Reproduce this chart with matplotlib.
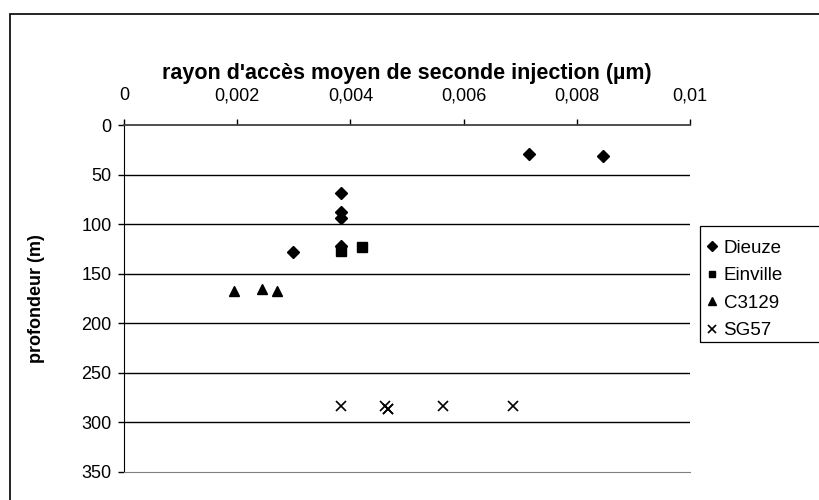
import matplotlib
matplotlib.use("Agg")
import matplotlib.pyplot as plt
from matplotlib.patches import Rectangle

plt.rcParams["font.family"] = ["Liberation Sans", "DejaVu Sans"]

# rayon d'accès (µm) / profondeur (m) par site
dieuze_x = [0.00715, 0.00846, 0.00384, 0.00384, 0.00384, 0.00384, 0.00299]
dieuze_y = [29, 31, 69, 88, 94, 122, 128]
einville_x = [0.0042, 0.00384]
einville_y = [123, 127]
c3129_x = [0.00195, 0.00243, 0.00271]
c3129_y = [167, 165, 167]
sg57_x = [0.00384, 0.00462, 0.00467, 0.00467, 0.00563, 0.00688]
sg57_y = [283, 283, 286, 286, 283, 283]

x_ticks = [0, 0.002, 0.004, 0.006, 0.008, 0.01]
x_labels = ["0", "0,002", "0,004", "0,006", "0,008", "0,01"]
y_ticks = [0, 50, 100, 150, 200, 250, 300, 350]

W, H = 819, 500
fig = plt.figure(figsize=(W / 100, H / 100), dpi=100)
ax = fig.add_axes([124 / W, 1 - 472 / H, (690 - 124) / W, (472 - 125) / H])

ax.plot(dieuze_x, dieuze_y, "D", color="black", ms=6.5, ls="none", label="Dieuze")
ax.plot(einville_x, einville_y, "s", color="black", ms=6.5, ls="none", label="Einville")
ax.plot(c3129_x, c3129_y, "^", color="black", ms=7.5, ls="none", label="C3129")
ax.plot(sg57_x, sg57_y, "x", color="black", ms=7, mew=1.2, ls="none", label="SG57")

ax.set_xlim(0, 0.01)
ax.set_ylim(350, 0)
ax.set_xticks(x_ticks)
ax.set_xticklabels(x_labels)
ax.set_yticks(y_ticks)
ax.xaxis.tick_top()
ax.xaxis.set_label_position("top")
ax.tick_params(axis="both", direction="out", length=4, width=1, labelsize=13, colors="black")
ax.tick_params(axis="x", pad=11)
ax.tick_params(axis="y", pad=5)

for v in y_ticks[1:-1]:
    ax.axhline(v, color="black", lw=1, zorder=0)

ax.spines["right"].set_visible(False)
ax.spines["top"].set_color("#404040")
ax.spines["top"].set_linewidth(1.3)
ax.spines["bottom"].set_color("#808080")
ax.spines["left"].set_color("black")

ax.set_xlabel("rayon d'accès moyen de seconde injection (µm)", fontsize=15.5,
              fontweight="bold", labelpad=6)
ax.set_ylabel("profondeur (m)", fontsize=13, fontweight="bold", labelpad=26)

leg = ax.legend(loc="upper left", bbox_to_anchor=(702 / W, 1 - 234 / H),
                bbox_transform=fig.transFigure, fontsize=13.5, frameon=False,
                handlelength=0.5, handletextpad=0.35, labelspacing=0.55,
                borderpad=0.3, borderaxespad=0, markerscale=0.75)

# cadre de la légende (coupé par le bord droit) et cadre du graphique
fig.patches.append(Rectangle((700 / W, 1 - 342 / H), 0.3, 116 / H,
                             transform=fig.transFigure, fill=False,
                             edgecolor="black", lw=0.9))
fig.patches.append(Rectangle((10 / W, -0.1), 1.2, 1 - 14 / H + 0.1,
                             transform=fig.transFigure, fill=False,
                             edgecolor="black", lw=1.2))

fig.savefig("out.png", dpi=100)
